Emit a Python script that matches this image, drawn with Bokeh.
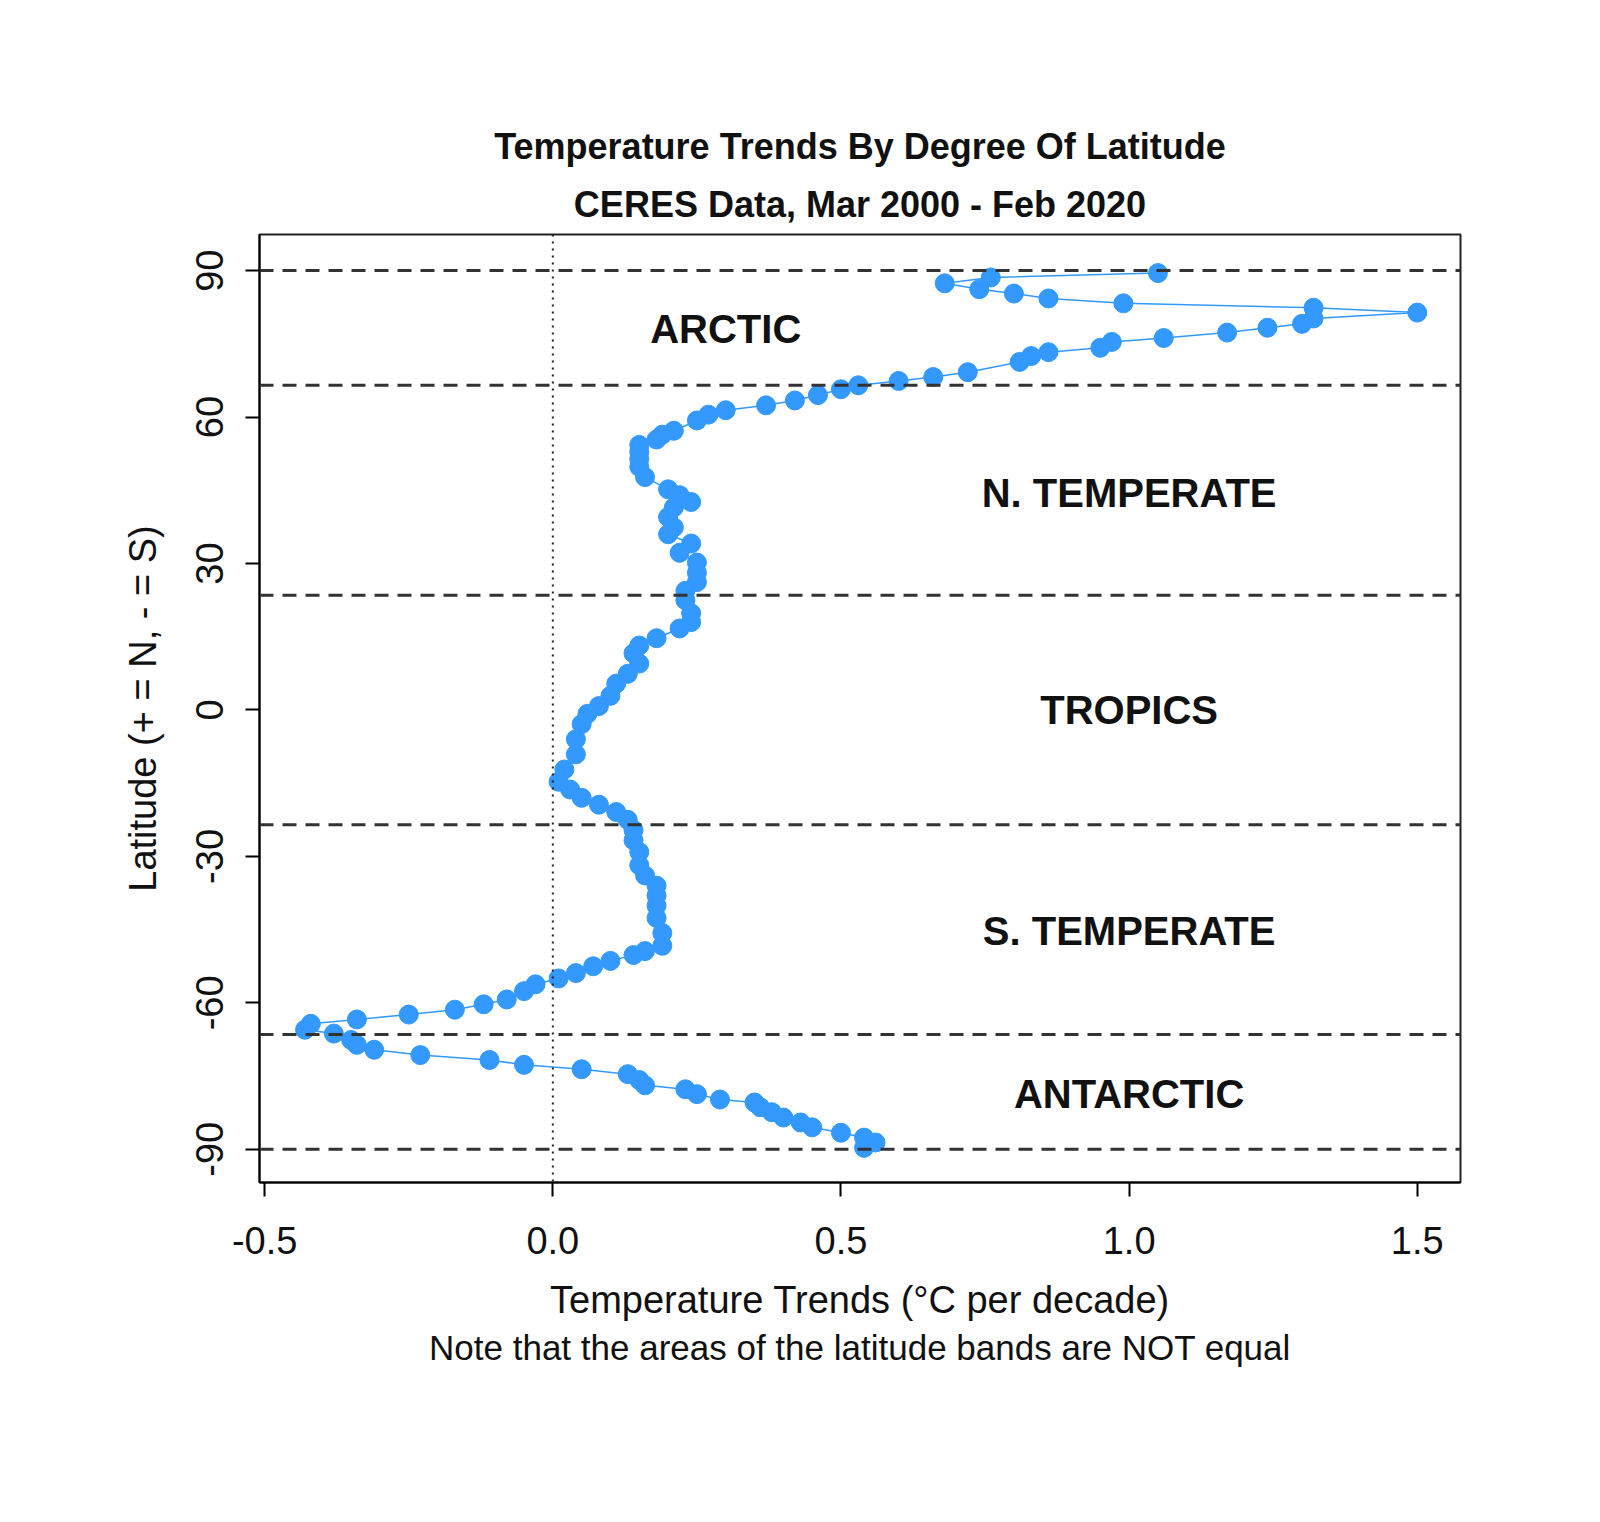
from bokeh.plotting import figure
from bokeh.models import Span, Title, Range1d, FixedTicker, ColumnDataSource, LabelSet
from bokeh.core.properties import value
from bokeh.embed import file_html
from bokeh.resources import INLINE

lat = [89.5,88.6,87.4,86.2,85.3,84.3,83.3,82.4,81.4,80.2,79.1,78.3,77.3,76.2,75.4,74.2,73.3,72.5,71.3,69.2,68.2,67.4,66.5,65.7,64.5,63.4,62.4,61.4,60.5,59.3,57.2,56.4,55.4,54.3,52.9,51.4,49.8,47.7,45.2,44.0,42.6,41.5,39.5,37.4,36.0,34.1,32.2,30.2,28.1,26.2,24.4,22.5,19.8,18.0,16.7,14.7,13.2,11.6,9.5,7.4,5.4,2.9,0.8,-0.8,-2.9,-6.0,-9.1,-12.2,-14.7,-16.3,-18.0,-19.4,-20.9,-22.5,-24.6,-26.7,-29.1,-31.8,-33.9,-36.0,-38.0,-40.1,-42.6,-45.7,-48.3,-49.4,-50.2,-51.4,-52.5,-53.9,-55.0,-56.2,-57.6,-59.3,-60.3,-61.4,-62.4,-63.4,-64.3,-65.5,-66.3,-67.6,-68.6,-69.6,-70.7,-71.7,-72.7,-73.6,-74.6,-75.8,-76.9,-77.7,-78.7,-79.8,-80.4,-81.4,-82.4,-83.5,-84.5,-85.5,-86.6,-87.6,-88.6,-89.7]
trend = [1.05,0.76,0.68,0.74,0.80,0.86,0.99,1.32,1.50,1.32,1.30,1.24,1.17,1.06,0.97,0.95,0.86,0.83,0.81,0.72,0.66,0.60,0.53,0.50,0.46,0.42,0.37,0.30,0.27,0.25,0.21,0.19,0.18,0.15,0.15,0.15,0.15,0.16,0.20,0.22,0.24,0.21,0.20,0.21,0.20,0.24,0.22,0.25,0.25,0.25,0.23,0.23,0.24,0.24,0.22,0.18,0.15,0.14,0.15,0.13,0.11,0.10,0.08,0.06,0.05,0.04,0.04,0.02,0.01,0.03,0.05,0.08,0.11,0.13,0.14,0.14,0.15,0.15,0.16,0.18,0.18,0.18,0.18,0.19,0.19,0.16,0.14,0.10,0.07,0.04,0.01,-0.03,-0.05,-0.08,-0.12,-0.17,-0.25,-0.34,-0.42,-0.43,-0.38,-0.35,-0.34,-0.31,-0.23,-0.11,-0.05,0.05,0.13,0.15,0.16,0.23,0.25,0.29,0.35,0.36,0.38,0.40,0.43,0.45,0.50,0.54,0.56,0.54]

boundaries = [90, 66.5, 23.5, -23.5, -66.5, -90]
zone_names = ["ARCTIC", "N. TEMPERATE", "TROPICS", "S. TEMPERATE", "ANTARCTIC"]
zone_x = [0.30, 1.0, 1.0, 1.0, 1.0]
zone_y = [78, 44.4, 0, -45.2, -78.7]

FONT = "Liberation Sans"

p = figure(width=1584, height=1500, output_backend="svg", toolbar_location=None,
           x_range=Range1d(-0.509, 1.575), y_range=Range1d(-96.8, 97.4),
           min_border_left=259, min_border_right=124, min_border_top=234, min_border_bottom=318)
p.background_fill_color = "white"
p.border_fill_color = "white"
p.outline_line_color = "#222222"
p.outline_line_width = 2
p.grid.visible = False

for b in boundaries:
    p.add_layout(Span(location=b, dimension="width", line_color="#333333", line_width=3, line_dash="14 9"))
p.add_layout(Span(location=0, dimension="height", line_color="#222222", line_width=2, line_dash="2 5"))

p.line(trend, lat, line_color="#3399FF", line_width=1.5)
p.scatter(trend, lat, size=19, fill_color="#3399FF", line_color="#3399FF")

src = ColumnDataSource(dict(x=zone_x, y=zone_y, t=zone_names))
p.add_layout(LabelSet(x="x", y="y", text="t", source=src, text_align="center", text_baseline="middle",
                      text_font=value(FONT), text_font_style="bold", text_font_size="40px", text_color="#111111"))

for ax in (p.xaxis[0], p.yaxis[0]):
    ax.major_label_text_font = FONT
    ax.major_label_text_font_size = "38px"
    ax.major_label_text_color = "#111111"
    ax.axis_label_text_font = FONT
    ax.axis_label_text_font_size = "38px"
    ax.axis_label_text_font_style = "normal"
    ax.axis_label_text_color = "#111111"
    ax.minor_tick_line_color = None
    ax.major_tick_in = 0
    ax.major_tick_out = 14
    ax.major_tick_line_width = 2
    ax.axis_line_width = 2
p.xaxis.ticker = FixedTicker(ticks=[-0.5, 0.0, 0.5, 1.0, 1.5])
p.xaxis.major_label_overrides = {-0.5: "-0.5", 0.0: "0.0", 0.5: "0.5", 1.0: "1.0", 1.5: "1.5"}
p.yaxis.ticker = FixedTicker(ticks=[-90, -60, -30, 0, 30, 60, 90])
p.yaxis.major_label_overrides = {-90: "-90", -60: "-60", -30: "-30", 0: "0", 30: "30", 60: "60", 90: "90"}
p.yaxis.major_label_orientation = "vertical"
p.xaxis.axis_label = "Temperature Trends (°C per decade)"
p.yaxis.axis_label = "Latitude (+ = N, - = S)"
p.xaxis.major_label_standoff = 30
p.xaxis.axis_label_standoff = 22
p.yaxis.major_label_standoff = 22
p.yaxis.axis_label_standoff = 30

p.add_layout(Title(text="Note that the areas of the latitude bands are NOT equal", align="center",
                   text_font=FONT, text_font_size="35px", text_font_style="normal", text_color="#111111",
                   standoff=4), "below")
p.add_layout(Title(text="CERES Data, Mar 2000 - Feb 2020", align="center",
                   text_font=FONT, text_font_size="36px", text_font_style="bold", text_color="#111111",
                   standoff=20), "above")
p.add_layout(Title(text="Temperature Trends By Degree Of Latitude", align="center",
                   text_font=FONT, text_font_size="36px", text_font_style="bold", text_color="#111111"), "above")

open("out.html", "w").write(file_html(p, INLINE))
